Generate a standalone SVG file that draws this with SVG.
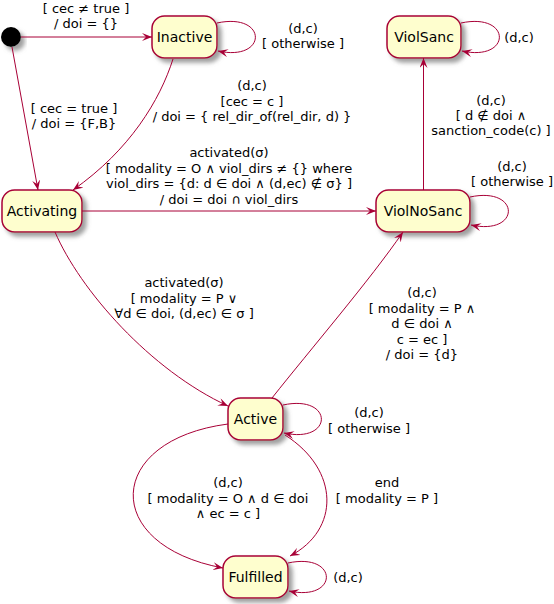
<svg xmlns="http://www.w3.org/2000/svg" width="554" height="604" viewBox="0 0 554 604">
<style>
.st rect{fill:#FEFECE;stroke:#A80036;stroke-width:1.5;filter:url(#sh)}
.st text{font-family:"DejaVu Sans",sans-serif;font-size:14px;fill:#000;text-anchor:middle}
.lbl{font-family:"DejaVu Sans",sans-serif;font-size:13px;fill:#000;text-anchor:middle}
#edges path,#edges line{fill:none;stroke:#A80036;stroke-width:1;marker-end:url(#ah)}
</style>
<defs>
<filter id="sh" x="-20%" y="-20%" width="150%" height="160%">
<feGaussianBlur in="SourceAlpha" stdDeviation="2"/>
<feOffset dx="4" dy="4" result="b"/>
<feFlood flood-color="#888" flood-opacity="0.8"/>
<feComposite in2="b" operator="in" result="s"/>
<feMerge><feMergeNode in="s"/><feMergeNode in="SourceGraphic"/></feMerge>
</filter>
<marker id="ah" markerUnits="userSpaceOnUse" markerWidth="10" markerHeight="8" viewBox="0 0 10 8" refX="10" refY="4" orient="auto">
<path d="M0,0 L10,4 L0,8 L4,4 Z" fill="#A80036"/>
</marker>
</defs>
<rect width="554" height="604" fill="#fff"/>

<g id="initial"><circle cx="11" cy="37" r="10" fill="#000" filter="url(#sh)"/></g>

<g id="Inactive" class="st"><rect x="152" y="16" width="65" height="42" rx="12.5"/><text x="184.5" y="42">Inactive</text></g>
<g id="ViolSanc" class="st"><rect x="387" y="16" width="74" height="42" rx="12.5"/><text x="424" y="42">ViolSanc</text></g>
<g id="Activating" class="st"><rect x="2" y="190" width="80" height="42" rx="12.5"/><text x="42" y="216">Activating</text></g>
<g id="ViolNoSanc" class="st"><rect x="376" y="190" width="94" height="42" rx="12.5"/><text x="423" y="216">ViolNoSanc</text></g>
<g id="Active" class="st"><rect x="228" y="398" width="55" height="42" rx="12.5"/><text x="255.5" y="424">Active</text></g>
<g id="Fulfilled" class="st"><rect x="223" y="556" width="65" height="42" rx="12.5"/><text x="255.5" y="582">Fulfilled</text></g>

<g id="edges">
<line x1="21" y1="37" x2="152" y2="37"/>
<path d="M12,47 L38,190"/>
<path d="M217,23 C268,12 268,62 218,51"/>
<path d="M173,59 C160,100 130,150 73,190"/>
<line x1="82" y1="211" x2="376" y2="211"/>
<line x1="423.5" y1="190" x2="423.5" y2="58"/>
<path d="M461,23 C512,12 512,62 462,51"/>
<path d="M470,197 C521,186 521,236 471,225"/>
<path d="M55,232 C80,290 150,370 228,406"/>
<path d="M272,398 C310,350 370,280 403,232"/>
<path d="M283,405 C334,394 334,444 284,433"/>
<path d="M228,424 C105,440 100,545 223,568"/>
<path d="M285,435 C340,470 340,530 290,556"/>
<path d="M288,563 C339,552 339,602 289,591"/>
</g>

<g id="labels" class="lbl">
<text class="lbl" x="86" y="13">[ cec ≠ true ]</text>
<text class="lbl" x="86" y="28">/ doi = {}</text>
<text class="lbl" x="74" y="112.5">[ cec = true ]</text>
<text class="lbl" x="74" y="128">/ doi = {F,B}</text>
<text class="lbl" x="303" y="33">(d,c)</text>
<text class="lbl" x="303" y="48">[ otherwise ]</text>
<text class="lbl" x="252" y="90">(d,c)</text>
<text class="lbl" x="252" y="105.5">[cec = c ]</text>
<text class="lbl" x="252" y="121">/ doi = { rel_dir_of(rel_dir, d) }</text>
<text class="lbl" x="229" y="157">activated(σ)</text>
<text class="lbl" x="229" y="172.5">[ modality = O ∧ viol_dirs ≠ {} where</text>
<text class="lbl" x="229" y="188">viol_dirs = {d: d ∈ doi ∧ (d,ec) ∉ σ} ]</text>
<text class="lbl" x="229" y="203.5">/ doi = doi ∩ viol_dirs</text>
<text class="lbl" x="519" y="42">(d,c)</text>
<text class="lbl" x="491" y="105">(d,c)</text>
<text class="lbl" x="491" y="120">[ d ∉ doi ∧</text>
<text class="lbl" x="491" y="135">sanction_code(c) ]</text>
<text class="lbl" x="512" y="170.5">(d,c)</text>
<text class="lbl" x="512" y="186">[ otherwise ]</text>
<text class="lbl" x="184" y="287">activated(σ)</text>
<text class="lbl" x="184" y="302.5">[ modality = P ∨</text>
<text class="lbl" x="184" y="318">∀d ∈ doi, (d,ec) ∈ σ ]</text>
<text class="lbl" x="422" y="297">(d,c)</text>
<text class="lbl" x="422" y="312.5">[ modality = P ∧</text>
<text class="lbl" x="422" y="328">d ∈ doi ∧</text>
<text class="lbl" x="422" y="343.5">c = ec ]</text>
<text class="lbl" x="422" y="359">/ doi = {d}</text>
<text class="lbl" x="369" y="417">(d,c)</text>
<text class="lbl" x="369" y="432.5">[ otherwise ]</text>
<text class="lbl" x="228" y="487">(d,c)</text>
<text class="lbl" x="228" y="502.5">[ modality = O ∧ d ∈ doi</text>
<text class="lbl" x="228" y="518">∧ ec = c ]</text>
<text class="lbl" x="387" y="487">end</text>
<text class="lbl" x="387" y="502.5">[ modality = P ]</text>
<text class="lbl" x="348" y="582">(d,c)</text>
</g>
</svg>
